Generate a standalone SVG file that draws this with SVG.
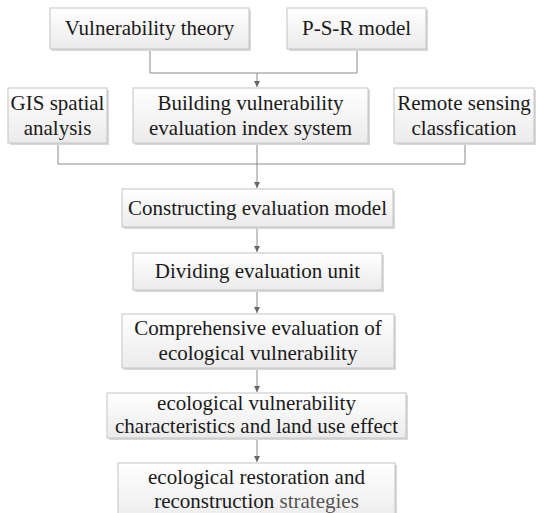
<svg xmlns="http://www.w3.org/2000/svg" width="536" height="513" viewBox="0 0 536 513">
<defs>
<linearGradient id="g" x1="0" y1="0" x2="0" y2="1">
<stop offset="0" stop-color="#ffffff"/>
<stop offset="1" stop-color="#ebebeb"/>
</linearGradient>
<marker id="arr" markerUnits="userSpaceOnUse" markerWidth="6" markerHeight="7" refX="6" refY="3" orient="auto">
<path d="M0,0 L6,3 L0,6 Z" fill="#666"/>
</marker>
</defs>
<style>
.box{fill:url(#g);stroke:#c4c4c4;stroke-width:1}
.sh{fill:#d8d8d8}
.t{font-family:'Liberation Serif',serif;font-size:21px;fill:#1a1a1a;text-anchor:middle}
.con{fill:none;stroke:#8a8a8a;stroke-width:1}
.lt{fill:#555}
</style>
<rect width="536" height="513" fill="#ffffff"/>
<g id="connectors">
<polyline class="con" points="150,49 150,73 357,73 357,49"/>
<line class="con" x1="257" y1="73" x2="257" y2="87" marker-end="url(#arr)"/>
<polyline class="con" points="58,143 58,164 465,164 465,143"/>
<line class="con" x1="257" y1="143" x2="257" y2="188" marker-end="url(#arr)"/>
<line class="con" x1="257" y1="227" x2="257" y2="252" marker-end="url(#arr)"/>
<line class="con" x1="257" y1="290" x2="257" y2="313" marker-end="url(#arr)"/>
<line class="con" x1="257" y1="368" x2="257" y2="392" marker-end="url(#arr)"/>
<line class="con" x1="257" y1="438" x2="257" y2="462" marker-end="url(#arr)"/>
</g>
<g id="n1">
<rect class="sh" x="52" y="10" width="199" height="41"/>
<rect class="box" x="50" y="8" width="199" height="41"/>
<text class="t" x="149.5" y="35">Vulnerability theory</text>
</g>
<g id="n2">
<rect class="sh" x="289" y="10" width="139" height="41"/>
<rect class="box" x="287" y="8" width="139" height="41"/>
<text class="t" x="356.5" y="35">P-S-R model</text>
</g>
<g id="n3">
<rect class="sh" x="10" y="90" width="99" height="55"/>
<rect class="box" x="8" y="88" width="99" height="55"/>
<text class="t" x="57.5" y="110">GIS spatial</text>
<text class="t" x="57.5" y="135">analysis</text>
</g>
<g id="n4">
<rect class="sh" x="135" y="90" width="235" height="55"/>
<rect class="box" x="133" y="88" width="235" height="55"/>
<text class="t" x="250.5" y="110">Building vulnerability</text>
<text class="t" x="250.5" y="135">evaluation index system</text>
</g>
<g id="n5">
<rect class="sh" x="396" y="90" width="140" height="55"/>
<rect class="box" x="394" y="88" width="140" height="55"/>
<text class="t" x="464" y="110">Remote sensing</text>
<text class="t" x="464" y="135">classfication</text>
</g>
<g id="n6">
<rect class="sh" x="124" y="191" width="271" height="38"/>
<rect class="box" x="122" y="189" width="271" height="38"/>
<text class="t" x="257.5" y="215">Constructing evaluation model</text>
</g>
<g id="n7">
<rect class="sh" x="135" y="255" width="249" height="37"/>
<rect class="box" x="133" y="253" width="249" height="37"/>
<text class="t" x="257.5" y="278">Dividing evaluation unit</text>
</g>
<g id="n8">
<rect class="sh" x="124" y="316" width="272" height="54"/>
<rect class="box" x="122" y="314" width="272" height="54"/>
<text class="t" x="258" y="335">Comprehensive evaluation of</text>
<text class="t" x="258" y="360">ecological vulnerability</text>
</g>
<g id="n9">
<rect class="sh" x="109" y="395" width="299" height="45"/>
<rect class="box" x="107" y="393" width="299" height="45"/>
<text class="t" x="256.5" y="410">ecological vulnerability</text>
<text class="t" x="256.5" y="433">characteristics and land use effect</text>
</g>
<g id="n10">
<rect class="sh" x="120" y="465" width="277" height="60"/>
<rect class="box" x="118" y="463" width="277" height="60"/>
<text class="t" x="256.5" y="484">ecological restoration and</text>
<text class="t" x="256.5" y="508">reconstruction <tspan class="lt">strategies</tspan></text>
</g>
</svg>
